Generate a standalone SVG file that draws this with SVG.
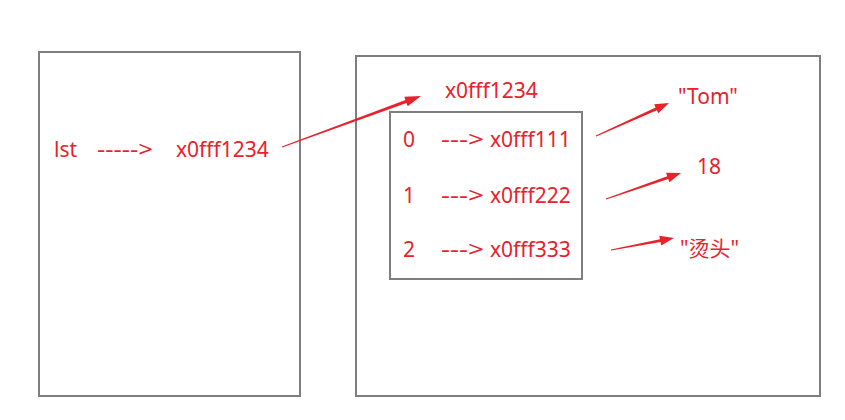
<svg xmlns="http://www.w3.org/2000/svg" width="845" height="420" viewBox="0 0 845 420">
<style>
.box{fill:none;stroke:#7f7f7f;stroke-width:2}
.t{font-family:"Noto Sans","Noto Sans CJK SC",sans-serif;font-size:21px;fill:#e8212b}
.arr{fill:#e8212b}
</style>
<rect width="845" height="420" fill="#fff"/>
<g id="stack">
<rect class="box" x="39" y="52" width="261" height="344"/>
<text class="t" x="54" y="157">lst</text>
<text class="t" x="97" y="157" textLength="56" lengthAdjust="spacingAndGlyphs">-----&gt;</text>
<text class="t" x="176" y="157">x0fff1234</text>
</g>
<g id="heap">
<rect class="box" x="356" y="56" width="464" height="340"/>
<text class="t" x="445" y="98">x0fff1234</text>
</g>
<g id="list">
<rect class="box" x="390" y="112" width="192" height="167"/>
<text class="t" x="403" y="147">0</text>
<text class="t" x="441" y="147" textLength="43" lengthAdjust="spacingAndGlyphs">---&gt;</text>
<text class="t" x="490" y="147">x0fff111</text>
<text class="t" x="403" y="203">1</text>
<text class="t" x="441" y="203" textLength="43" lengthAdjust="spacingAndGlyphs">---&gt;</text>
<text class="t" x="490" y="203">x0fff222</text>
<text class="t" x="403" y="257">2</text>
<text class="t" x="441" y="257" textLength="43" lengthAdjust="spacingAndGlyphs">---&gt;</text>
<text class="t" x="490" y="257">x0fff333</text>
</g>
<g id="val-tom"><text class="t" x="678" y="104">"Tom"</text></g>
<g id="val-18"><text class="t" x="697" y="174">18</text></g>
<g id="val-tangtou"><text class="t" x="680" y="256">"烫头"</text></g>
<g id="connectors">
<polygon class="arr" points="282.17,147.47 406.50,102.92 407.70,106.20 421,96 404.26,96.82 405.46,100.10 281.83,146.53"/>
<polygon class="arr" points="596.21,136.46 656.86,110.14 658.30,113.33 669,103 654.18,104.21 655.62,107.40 595.79,135.54"/>
<polygon class="arr" points="606.16,199.47 668.26,179.01 669.41,182.31 681,173 666.13,172.87 667.28,176.17 605.84,198.53"/>
<polygon class="arr" points="611.09,250.49 660.53,242.09 661.19,245.53 674,238 659.31,235.71 659.97,239.15 610.91,249.51"/>
</g>
</svg>
